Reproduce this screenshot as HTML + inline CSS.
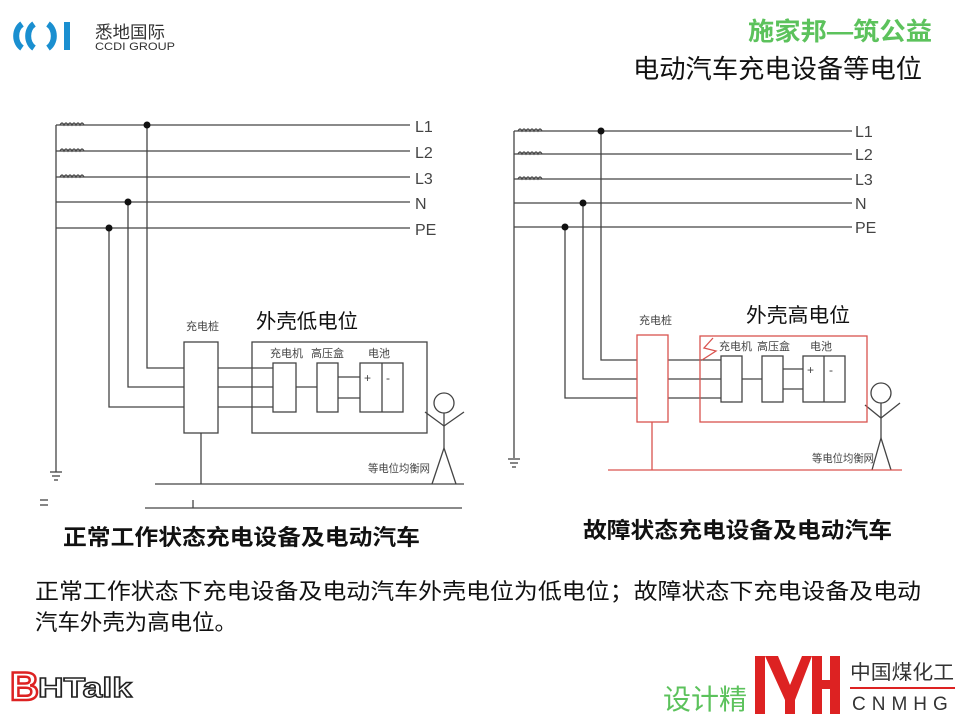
<!DOCTYPE html>
<html><head><meta charset="utf-8"><style>
body{margin:0;width:960px;height:720px;background:#fff;overflow:hidden;font-family:"Liberation Sans","Noto Sans CJK SC",sans-serif}
</style></head><body>
<svg width="960" height="720" viewBox="0 0 960 720" xmlns="http://www.w3.org/2000/svg" style="position:absolute;left:0;top:0">
<g font-family="Liberation Sans, Noto Sans CJK SC, sans-serif">
<path d="M22 24 A12 14 0 0 0 22 48" stroke="#1a8fd0" stroke-width="6" fill="none"/>
<path d="M34 24 A12 14 0 0 0 34 48" stroke="#1a8fd0" stroke-width="6" fill="none"/>
<path d="M48 24 A12 14 0 0 1 48 48" stroke="#1a8fd0" stroke-width="6" fill="none"/>
<rect x="64" y="22" width="6" height="28" fill="#1a8fd0"/>
<text x="95" y="38" font-size="17" fill="#333" textLength="70" lengthAdjust="spacingAndGlyphs">悉地国际</text>
<text x="95" y="50" font-size="11" fill="#333" textLength="80" lengthAdjust="spacingAndGlyphs">CCDI GROUP</text>
<text x="748" y="40" font-size="25" font-weight="bold" fill="#5cc25c" textLength="184" lengthAdjust="spacingAndGlyphs">施家邦—筑公益</text>
<text x="633" y="78" font-size="26" fill="#111" textLength="289" lengthAdjust="spacingAndGlyphs">电动汽车充电设备等电位</text>
</g>

<g stroke="#444" stroke-width="1.3" fill="none">
<line x1="56" y1="125" x2="56" y2="472"/>
<line x1="56" y1="125" x2="410" y2="125"/>
<line x1="56" y1="151" x2="410" y2="151"/>
<line x1="56" y1="177" x2="410" y2="177"/>
<line x1="56" y1="202" x2="410" y2="202"/>
<line x1="56" y1="228" x2="410" y2="228"/>
<path d="M60 125 q2 -4 4 0 q2 -4 4 0 q2 -4 4 0 q2 -4 4 0 q2 -4 4 0 q2 -4 4 0"/>
<path d="M60 151 q2 -4 4 0 q2 -4 4 0 q2 -4 4 0 q2 -4 4 0 q2 -4 4 0 q2 -4 4 0"/>
<path d="M60 177 q2 -4 4 0 q2 -4 4 0 q2 -4 4 0 q2 -4 4 0 q2 -4 4 0 q2 -4 4 0"/>
<line x1="50" y1="472" x2="62" y2="472"/><line x1="52" y1="476" x2="60" y2="476"/><line x1="54" y1="480" x2="58" y2="480"/>
<line x1="40" y1="500" x2="48" y2="500"/><line x1="40" y1="505" x2="48" y2="505"/>
<polyline points="147,125 147,368 184,368"/>
<polyline points="128,202 128,387 184,387"/>
<polyline points="109,228 109,407 184,407"/>
<rect x="184" y="342" width="34" height="91"/>
<line x1="218" y1="368" x2="273" y2="368"/>
<line x1="218" y1="387" x2="273" y2="387"/>
<line x1="218" y1="407" x2="273" y2="407"/>
<rect x="252" y="342" width="175" height="91"/>
<rect x="273" y="363" width="23" height="49"/>
<rect x="317" y="363" width="21" height="49"/>
<rect x="360" y="363" width="43" height="49"/>
<line x1="382" y1="363" x2="382" y2="412"/>
<line x1="296" y1="387" x2="317" y2="387"/>
<line x1="338" y1="377" x2="360" y2="377"/>
<line x1="338" y1="398" x2="360" y2="398"/>
<line x1="201" y1="433" x2="201" y2="484"/>
<line x1="155" y1="484" x2="464" y2="484"/>
<line x1="145" y1="508" x2="462" y2="508"/>
<line x1="193" y1="500" x2="193" y2="508"/>
<circle cx="444" cy="403" r="10"/>
<polyline points="425,412 444,426 464,412"/>
<line x1="444" y1="413" x2="444" y2="448"/>
<polyline points="432,484 444,448 456,484"/>

<line x1="514" y1="131" x2="514" y2="458"/>
<line x1="514" y1="131" x2="852" y2="131"/>
<line x1="514" y1="154" x2="852" y2="154"/>
<line x1="514" y1="179" x2="852" y2="179"/>
<line x1="514" y1="203" x2="852" y2="203"/>
<line x1="514" y1="227" x2="852" y2="227"/>
<path d="M518 131 q2 -4 4 0 q2 -4 4 0 q2 -4 4 0 q2 -4 4 0 q2 -4 4 0 q2 -4 4 0"/>
<path d="M518 154 q2 -4 4 0 q2 -4 4 0 q2 -4 4 0 q2 -4 4 0 q2 -4 4 0 q2 -4 4 0"/>
<path d="M518 179 q2 -4 4 0 q2 -4 4 0 q2 -4 4 0 q2 -4 4 0 q2 -4 4 0 q2 -4 4 0"/>
<line x1="508" y1="459" x2="520" y2="459"/><line x1="510" y1="463" x2="518" y2="463"/><line x1="512" y1="467" x2="516" y2="467"/>
<polyline points="601,131 601,360 637,360"/>
<polyline points="583,203 583,379 637,379"/>
<polyline points="565,227 565,398 637,398"/>
<line x1="668" y1="360" x2="721" y2="360"/>
<line x1="668" y1="379" x2="721" y2="379"/>
<line x1="668" y1="398" x2="721" y2="398"/>
<rect x="721" y="356" width="21" height="46"/>
<rect x="762" y="356" width="21" height="46"/>
<rect x="803" y="356" width="42" height="46"/>
<line x1="824" y1="356" x2="824" y2="402"/>
<line x1="742" y1="379" x2="762" y2="379"/>
<line x1="783" y1="369" x2="803" y2="369"/>
<line x1="783" y1="389" x2="803" y2="389"/>
<circle cx="881" cy="393" r="10"/>
<polyline points="865,405 881,418 900,403"/>
<line x1="881" y1="403" x2="881" y2="438"/>
<polyline points="872,470 881,438 891,470"/>
</g>
<g stroke="#d9534f" stroke-width="1.3" fill="none">
<rect x="637" y="335" width="31" height="87"/>
<rect x="700" y="336" width="167" height="86"/>
<line x1="652" y1="422" x2="652" y2="470"/>
<line x1="608" y1="470" x2="902" y2="470"/>
<polyline points="713,338 704,348 716,351 702,360"/>
</g>
<g fill="#111">
<circle cx="147" cy="125" r="3.5"/><circle cx="128" cy="202" r="3.5"/><circle cx="109" cy="228" r="3.5"/>
<circle cx="601" cy="131" r="3.5"/><circle cx="583" cy="203" r="3.5"/><circle cx="565" cy="227" r="3.5"/>
</g>
<g font-family="Liberation Sans, Noto Sans CJK SC, sans-serif" fill="#444">
<g font-size="16">
<text x="415" y="132">L1</text><text x="415" y="158">L2</text><text x="415" y="184">L3</text><text x="415" y="209">N</text><text x="415" y="235">PE</text>
<text x="855" y="137">L1</text><text x="855" y="160">L2</text><text x="855" y="185">L3</text><text x="855" y="209">N</text><text x="855" y="233">PE</text>
</g>
<g font-size="11">
<text x="186" y="330">充电桩</text><text x="270" y="357">充电机</text><text x="311" y="357">高压盒</text><text x="368" y="357">电池</text>
<text x="368" y="472" textLength="62" lengthAdjust="spacingAndGlyphs">等电位均衡网</text>
<text x="639" y="324">充电桩</text><text x="719" y="350">充电机</text><text x="757" y="350">高压盒</text><text x="810" y="350">电池</text>
<text x="812" y="462" textLength="62" lengthAdjust="spacingAndGlyphs">等电位均衡网</text>
<text x="364" y="382" font-size="12">+</text><text x="386" y="382" font-size="12">-</text>
<text x="807" y="374" font-size="12">+</text><text x="829" y="374" font-size="12">-</text>
</g>
<text x="256" y="328" font-size="20" fill="#111" textLength="102" lengthAdjust="spacingAndGlyphs">外壳低电位</text>
<text x="746" y="322" font-size="20" fill="#111" textLength="104" lengthAdjust="spacingAndGlyphs">外壳高电位</text>
<text x="63" y="545" font-size="22" font-weight="bold" fill="#111" textLength="357" lengthAdjust="spacingAndGlyphs">正常工作状态充电设备及电动汽车</text>
<text x="583" y="538" font-size="22" font-weight="bold" fill="#111" textLength="309" lengthAdjust="spacingAndGlyphs">故障状态充电设备及电动汽车</text>
<text x="35" y="599" font-size="22" fill="#111" textLength="886" lengthAdjust="spacingAndGlyphs">正常工作状态下充电设备及电动汽车外壳电位为低电位；故障状态下充电设备及电动</text>
<text x="35" y="630" font-size="22" fill="#111" textLength="202" lengthAdjust="spacingAndGlyphs">汽车外壳为高电位。</text>
</g>
<g font-family="Liberation Sans, Noto Sans CJK SC, sans-serif">
<text x="10" y="700" font-size="40" font-weight="bold" fill="#fff" stroke="#d22" stroke-width="2.5">B</text>
<text x="38" y="697" font-size="28" font-weight="bold" fill="#fff" stroke="#222" stroke-width="1.4" textLength="94" lengthAdjust="spacingAndGlyphs">HTalk</text>
<text x="663" y="709" font-size="28" fill="#5cc25c">设计精</text>
<rect x="755" y="656" width="10" height="58" fill="#d22"/>
<polygon points="765,656 778,656 790,685 802,656 812,656 795,700 785,700" fill="#d22"/>
<rect x="785" y="685" width="10" height="29" fill="#d22"/>
<rect x="812" y="656" width="10" height="58" fill="#d22"/>
<rect x="830" y="656" width="10" height="58" fill="#d22"/>
<rect x="812" y="680" width="28" height="9" fill="#d22"/>
<text x="850" y="679" font-size="20" fill="#333" textLength="104" lengthAdjust="spacingAndGlyphs">中国煤化工</text>
<line x1="850" y1="688" x2="955" y2="688" stroke="#d22" stroke-width="2"/>
<text x="852" y="710" font-size="19" fill="#333" letter-spacing="6">CNMHG</text>
</g>
</svg>
</body></html>
